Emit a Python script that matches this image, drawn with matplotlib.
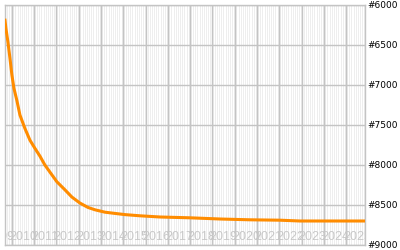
import matplotlib
matplotlib.use("Agg")
import matplotlib.pyplot as plt
import numpy as np

# decimal-year dates and rank values
dates = [2009.69, 2009.73, 2009.82, 2009.91, 2010.00, 2010.09, 2010.22, 2010.36,
         2010.58, 2010.81, 2011.03, 2011.26, 2011.48, 2011.71, 2012.02, 2012.38,
         2012.69, 2013.05, 2013.41, 2013.73, 2014.18, 2014.62, 2015.07, 2015.75,
         2016.65, 2017.99, 2019.34, 2020.69, 2022.03, 2022.93, 2024.28, 2025.85]
ranks = [6190, 6290, 6460, 6660, 6875, 7040, 7190, 7375,
         7540, 7690, 7790, 7890, 8000, 8090, 8210, 8310,
         8400, 8475, 8530, 8560, 8590, 8605, 8620, 8635,
         8650, 8660, 8675, 8685, 8690, 8700, 8700, 8700]
year_labels = [str(y) for y in range(2009, 2026)]
y_ticks = [6000, 6500, 7000, 7500, 8000, 8500, 9000]
y_labels = ["#6000", "#6500", "#7000", "#7500", "#8000", "#8500", "#9000"]

fig = plt.figure(figsize=(4, 2.5), dpi=100)
ax = fig.add_axes([0.0125, 0.02, 0.9, 0.96])
ax.set_facecolor("#eeeeee")
xmin, xmax = 2009.69, 2025.85
ax.set_xlim(xmin, xmax)
ax.set_ylim(9000, 6000)

# month stripes
for y in range(2009, 2026):
    for m in range(12):
        x = y + m / 12
        if xmin < x < xmax:
            ax.axvline(x, color="white", lw=0.8, zorder=0)
# year gridlines
for y in range(2010, 2026):
    ax.axvline(y, color="#c4c4c4", lw=1, zorder=1)
for t in y_ticks:
    ax.axhline(t, color="#c4c4c4", lw=1, zorder=1)

for i, lab in enumerate(year_labels):
    ax.text(int(lab) + 0.5, 8900, lab, ha="center", va="center", fontsize=9,
            family="Liberation Sans", color="#c8c8c8", clip_on=True, zorder=2)

ax.plot(dates, ranks, color="#ff8c00", lw=2.2, zorder=3)

ax.set_xticks([])
ax.set_yticks(y_ticks)
ax.set_yticklabels(y_labels)
ax.yaxis.tick_right()
ax.tick_params(axis="y", length=0, pad=2, labelsize=6.5)
for s in ax.spines.values():
    s.set_color("#c4c4c4")
    s.set_linewidth(1)

fig.savefig("out.png", dpi=100)
